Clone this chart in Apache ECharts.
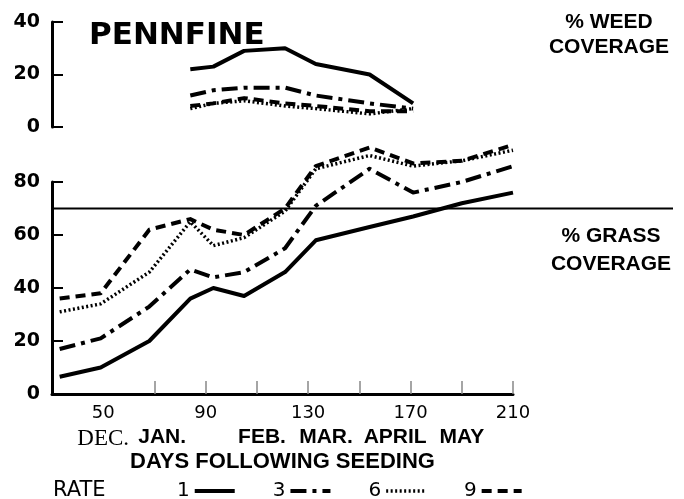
<!DOCTYPE html>
<html>
<head>
<meta charset="utf-8">
<script src="https://cdn.jsdelivr.net/npm/echarts@6/dist/echarts.min.js"></script>
<style>
    html, body { margin: 0; padding: 0; background: #fff; }
    #pennfine { width: 684px; height: 499px; }
</style>
</head>
<body>
<div id="pennfine"></div>
<script>

// Data
// ------------------------------

// days after seeding (sampling dates)
var grassDays = [33, 49, 68, 84, 93, 105, 121, 133, 154, 171, 190, 210];
var weedDays = [84, 93, 105, 121, 133, 154, 171];

// % grass coverage by seeding rate
var grassRate1 = [6.5, 10, 20, 36, 40, 37, 46, 58, 63, 67, 72, 76];
var grassRate3 = [17, 21, 33, 47, 44, 46, 55, 71, 85, 76, 80, 86];
var grassRate6 = [31, 34, 46, 65, 56, 59, 69, 85, 90, 86, 88, 92];
var grassRate9 = [36, 38, 62, 66, 62, 60, 70, 86, 93, 87, 88, 94];

// % weed coverage by seeding rate
var weedRate1 = [22, 23, 29, 30, 24, 20, 9];
var weedRate3 = [12, 14, 15, 15, 12, 9, 7];
var weedRate6 = [7, 9, 10, 8, 7, 5, 7];
var weedRate9 = [8, 9, 11, 9, 8, 6, 6];

// axis ticks / labels
var dayTicks = [70, 90, 110, 130, 150, 170, 190, 210];
var dayLabels = [50, 90, 130, 170, 210];
var monthDays = [50, 73, 112, 137, 164, 190];
var monthNames = ['DEC.', 'JAN.', 'FEB.', 'MAR.', 'APRIL', 'MAY'];
var rateNames = ['1', '3', '6', '9'];
var grassTarget = 70;


var EchartsPennfine = function() {

    var _pennfineChart = function() {
        if (typeof echarts == 'undefined') {
            console.warn('Warning - echarts.min.js is not loaded.');
            return;
        }

        var element = document.getElementById('pennfine');
        if (!element) return;

        var chart = echarts.init(element);

        // Styles
        var ink = '#000',
            tickColor = '#888',
            sansBold = 'Liberation Sans',
            handFont = 'DejaVu Sans';

        var pairs = function(xs, ys) {
            return xs.map(function(x, i) { return [x, ys[i]]; });
        };

        var rateStyles = [
            { type: 'solid', width: 4 },
            { type: [16, 6, 4, 6], width: 4 },
            { type: [2, 2.5], width: 3.5 },
            { type: [10, 6], width: 4 }
        ];

        var makeSeries = function(name, idx, axis, xs, ys) {
            return {
                name: name,
                type: 'line',
                xAxisIndex: axis,
                yAxisIndex: axis,
                data: pairs(xs, ys),
                symbol: 'none',
                clip: false,
                silent: true,
                color: ink,
                lineStyle: {
                    color: ink,
                    width: rateStyles[idx].width,
                    type: rateStyles[idx].type,
                    cap: 'butt',
                    join: 'round'
                }
            };
        };

        var yAxisBase = function(grid, max) {
            return {
                type: 'value',
                gridIndex: grid,
                min: 0,
                max: max,
                interval: 20,
                axisLine: { show: true, lineStyle: { color: ink, width: 3 } },
                axisTick: { show: true, inside: true, length: 11, lineStyle: { color: ink, width: 2 } },
                axisLabel: { color: ink, fontFamily: handFont, fontWeight: 'bold', fontSize: 19, margin: 12 },
                splitLine: { show: false }
            };
        };

        chart.setOption({
            animation: false,

            textStyle: {
                fontFamily: sansBold
            },

            title: [
                {
                    text: 'PENNFINE',
                    left: 84,
                    top: 15,
                    textStyle: { fontFamily: handFont, fontWeight: 'bold', fontSize: 31, color: ink }
                },
                {
                    text: '% WEED\nCOVERAGE',
                    left: 604,
                    top: 5,
                    textAlign: 'center',
                    textStyle: { fontFamily: sansBold, fontWeight: 'bold', fontSize: 21, lineHeight: 25, color: ink }
                },
                {
                    text: '% GRASS\nCOVERAGE',
                    left: 606,
                    top: 217,
                    textAlign: 'center',
                    textStyle: { fontFamily: sansBold, fontWeight: 'bold', fontSize: 21, lineHeight: 28, color: ink }
                },
                {
                    text: 'RATE',
                    left: 48,
                    top: 475,
                    textStyle: { fontFamily: handFont, fontWeight: 'normal', fontSize: 21, color: ink }
                }
            ],

            legend: {
                data: rateNames.map(function(n, i) {
                    return { name: n, lineStyle: { width: rateStyles[i].width, type: rateStyles[i].type, color: ink } };
                }),
                left: 172,
                top: 476,
                align: 'right',
                itemWidth: 40,
                itemHeight: 12,
                itemGap: 36,
                selectedMode: false,
                itemStyle: { opacity: 0 },
                textStyle: { fontFamily: handFont, fontSize: 20, color: ink }
            },

            grid: [
                { left: 52, right: 171, top: 22, height: 105 },
                { left: 52, right: 171, top: 182, bottom: 105 }
            ],

            xAxis: [
                {
                    type: 'value',
                    gridIndex: 0,
                    min: 30,
                    max: 210,
                    show: false
                },
                {
                    type: 'value',
                    gridIndex: 1,
                    min: 30,
                    max: 210,
                    name: 'DAYS FOLLOWING SEEDING',
                    nameLocation: 'middle',
                    nameGap: 57,
                    nameTextStyle: { fontFamily: sansBold, fontWeight: 'bold', fontSize: 22, color: ink },
                    axisLine: { show: true, lineStyle: { color: ink, width: 3 } },
                    axisTick: {
                        show: true,
                        inside: true,
                        length: 13,
                        customValues: dayTicks,
                        lineStyle: { color: tickColor, width: 1.5 }
                    },
                    axisLabel: {
                        customValues: dayLabels,
                        color: ink,
                        fontFamily: handFont,
                        fontSize: 18,
                        margin: 10
                    },
                    splitLine: { show: false }
                },
                {
                    type: 'value',
                    gridIndex: 1,
                    min: 30,
                    max: 210,
                    position: 'bottom',
                    offset: 25,
                    axisLine: { show: false },
                    axisTick: { show: false },
                    splitLine: { show: false },
                    axisLabel: {
                        customValues: monthDays,
                        margin: 8,
                        formatter: function(v) {
                            var i = monthDays.indexOf(v);
                            if (i < 0) return '';
                            return i === 0 ? '{serif|' + monthNames[i] + '}' : '{bold|' + monthNames[i] + '}';
                        },
                        rich: {
                            serif: { fontFamily: 'Liberation Serif', fontSize: 23, color: ink },
                            bold: { fontFamily: sansBold, fontWeight: 'bold', fontSize: 21, color: ink }
                        }
                    }
                }
            ],

            yAxis: [
                yAxisBase(0, 40),
                yAxisBase(1, 80)
            ],

            series: [
                makeSeries('1', 0, 1, grassDays, grassRate1),
                makeSeries('3', 1, 1, grassDays, grassRate3),
                makeSeries('6', 2, 1, grassDays, grassRate6),
                makeSeries('9', 3, 1, grassDays, grassRate9),
                makeSeries('1', 0, 0, weedDays, weedRate1),
                makeSeries('3', 1, 0, weedDays, weedRate3),
                makeSeries('6', 2, 0, weedDays, weedRate6),
                makeSeries('9', 3, 0, weedDays, weedRate9)
            ]
        });

        // 70% grass reference line, running out to the right-hand label
        var lineY = chart.convertToPixel({ yAxisIndex: 1 }, grassTarget);
        var lineX0 = chart.convertToPixel({ xAxisIndex: 1 }, 30);
        chart.setOption({
            graphic: [{
                type: 'line',
                shape: { x1: lineX0, y1: lineY, x2: 673, y2: lineY },
                style: { stroke: ink, lineWidth: 2 },
                silent: true
            }]
        });
    };

    return {
        init: function() {
            _pennfineChart();
        }
    };
}();

document.addEventListener('DOMContentLoaded', function() {
    EchartsPennfine.init();
});
</script>
</body>
</html>
